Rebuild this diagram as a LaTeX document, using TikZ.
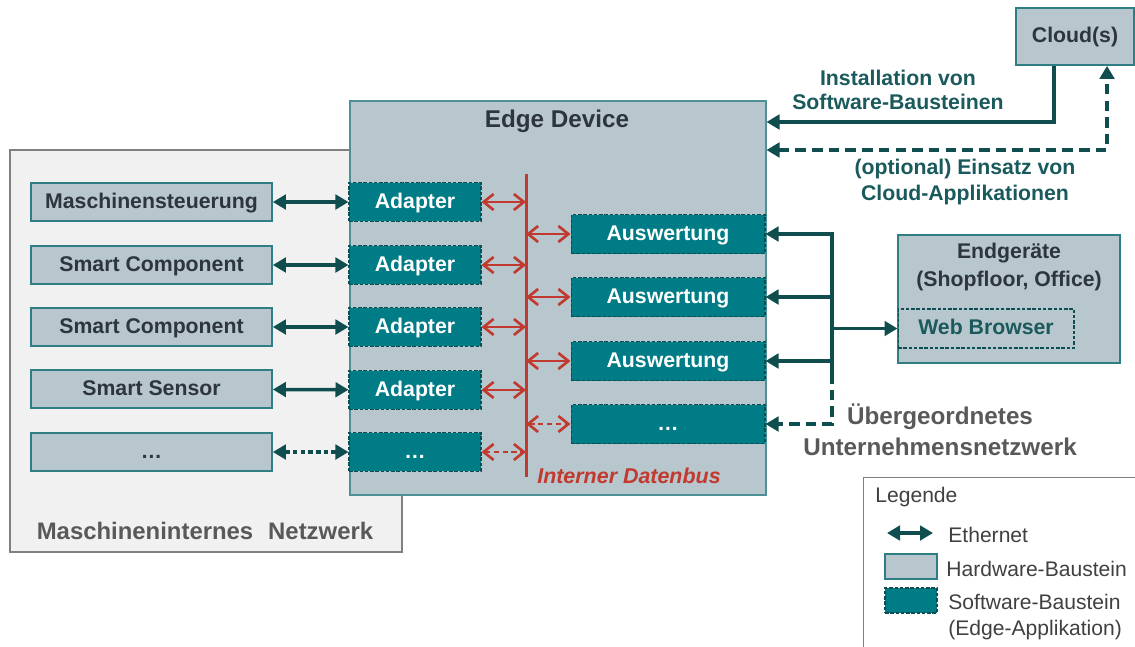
\documentclass[tikz,border=0pt]{standalone}
\usepackage{fontspec}
\setmainfont{Liberation Sans}
\usetikzlibrary{arrows.meta,positioning}
\definecolor{hwfill}{HTML}{B8C6CD}
\definecolor{hwline}{HTML}{2E7E84}
\definecolor{swfill}{HTML}{007C86}
\definecolor{swline}{HTML}{0D4E52}
\definecolor{ethcol}{HTML}{0F4D4F}
\definecolor{labcol}{HTML}{1A5A5C}
\definecolor{buscol}{HTML}{C03A2F}
\definecolor{txtdark}{HTML}{2C3540}
\definecolor{txtgrey}{HTML}{595959}
\definecolor{netbg}{HTML}{F1F1F1}
\definecolor{netline}{HTML}{808080}

\begin{document}
\begin{tikzpicture}[x=0.02cm,y=-0.02cm,
  font=\fontsize{12.1}{14}\selectfont\bfseries,
  hw/.style={draw=hwline,fill=hwfill,line width=1pt,text=txtdark,inner sep=0pt},
  sw/.style={draw=swline,fill=swfill,line width=0.6pt,dash pattern=on 2pt off 1pt,
             text=white,inner sep=0pt},
  one/.style={text height=0.7em,text depth=0pt},
  dev/.style={hw,one,minimum width=4.82cm,minimum height=0.76cm},
  ad/.style={sw,one,minimum width=2.64cm,minimum height=0.77cm},
  ev/.style={sw,one,minimum width=3.88cm,minimum height=0.78cm},
  eth/.style={line width=2pt,ethcol,{Triangle[length=2.6mm,width=2.9mm]}-{Triangle[length=2.6mm,width=2.9mm]}},
  eone/.style={line width=2pt,ethcol,-{Triangle[length=2.6mm,width=2.9mm]}},
  dbus/.style={line width=1.5pt,buscol,{Straight Barb[length=2mm,width=3.2mm]}-{Straight Barb[length=2mm,width=3.2mm]}},
  legtxt/.style={font=\fontsize{12}{14.8}\selectfont\mdseries,text=black!75,align=left,anchor=west,inner sep=0pt},
]
\useasboundingbox (0,0) rectangle (1135,646);
\clip (0,0) rectangle (1135,646);

\node[draw=netline,fill=netbg,line width=1.1pt,anchor=north west,inner sep=0pt,
      minimum width=7.84cm,minimum height=8.04cm] (net) at (9,149) {};
\node[font=\fontsize{13.6}{16}\selectfont\bfseries,text=txtgrey] (netlbl) at (205,531)
  {Maschineninternes\hspace{0.35em} Netzwerk};

\node[hw,draw=hwline!85,line width=0.9pt,anchor=north west,
      minimum width=8.32cm,minimum height=7.88cm] (edge) at (349,100) {};
\node[font=\fontsize{13.8}{16}\selectfont\bfseries,text=txtdark] (edgelbl) at (557,121) {Edge Device};

% machine side
\node[dev] (m1) at (151.5,202) {Maschinensteuerung};
\node[dev] (m2) at (151.5,265) {Smart Component};
\node[dev] (m3) at (151.5,327) {Smart Component};
\node[dev] (m4) at (151.5,389) {Smart Sensor};
\node[dev] (m5) at (151.5,452) {\dots};

\node[ad] (a1) at (415,202) {Adapter};
\node[ad] (a2) at (415,265) {Adapter};
\node[ad] (a3) at (415,327) {Adapter};
\node[ad] (a4) at (415,390) {Adapter};
\node[ad] (a5) at (415,452) {\dots};

\node[ev] (v1) at (668,234) {Auswertung};
\node[ev] (v2) at (668,297) {Auswertung};
\node[ev] (v3) at (668,361) {Auswertung};
\node[ev] (v4) at (668,424) {\dots};

\draw[eth] (m1) -- (a1);
\draw[eth] (m2) -- (a2);
\draw[eth] (m3) -- (a3);
\draw[eth] (m4) -- (a4);
\draw[eth,dash pattern=on 2.6pt off 1.8pt] (m5) -- (a5);

% internal bus
\coordinate (busT) at (526,174);
\coordinate (busB) at (526,477);
\draw[buscol,line width=1.7pt] (busT) -- (busB);
\node[font=\fontsize{12.2}{14}\selectfont\bfseries\itshape,text=buscol] (buslbl) at (629,476) {Interner Datenbus};

\draw[dbus] (a1.east) -- (a1.east -| busT);
\draw[dbus] (a2.east) -- (a2.east -| busT);
\draw[dbus] (a3.east) -- (a3.east -| busT);
\draw[dbus] (a4.east) -- (a4.east -| busT);
\draw[dbus,dash pattern=on 3pt off 2pt] (a5.east) -- (a5.east -| busT);
\draw[dbus] (v1.west -| busT) -- (v1.west);
\draw[dbus] (v2.west -| busT) -- (v2.west);
\draw[dbus] (v3.west -| busT) -- (v3.west);
\draw[dbus,dash pattern=on 3pt off 2pt] (v4.west -| busT) -- (v4.west);

% cloud
\node[hw,one,minimum width=2.36cm,minimum height=1.14cm] (cloud) at (1075,36.5) {Cloud(s)};
\coordinate (ins) at (1054,122);
\coordinate (opt) at (1107,150);
\draw[eone] (cloud.south -| ins) -- (ins) -- (edge.east |- ins);
\draw[eth,dash pattern=on 6pt off 3.5pt] (edge.east |- opt) -- (opt) -- (cloud.south -| opt);
\node[text=labcol,align=center] (inslbl) at (898,90) {Installation von\\Software-Bausteinen};
\node[text=labcol,align=center,font=\fontsize{12.1}{14.8}\selectfont\bfseries] (optlbl) at (965,182)
  {(optional) Einsatz von\\Cloud-Applikationen};

% end devices
\node[hw,minimum width=4.44cm,minimum height=2.56cm] (end) at (1009,299) {};
\node[text=txtdark,align=center,font=\fontsize{12.1}{16}\selectfont\bfseries] (endlbl) at (1009,267)
  {Endger\"ate\\(Shopfloor, Office)};
\node[draw=swline,line width=0.6pt,dash pattern=on 2pt off 1pt,text=labcol,inner sep=0pt,one,
      minimum width=3.52cm,minimum height=0.78cm] (web) at (986,328.5) {Web Browser};

\coordinate (bx) at (832,0);
\coordinate (bsplit) at (832,373);
\draw[eone] (bsplit) -- (v1.east -| bx) -- (v1.east);
\draw[eone] (v2.east -| bx) -- (v2.east);
\draw[eone] (v3.east -| bx) -- (v3.east);
\draw[eone,dash pattern=on 6pt off 3.5pt] (bsplit) -- (v4.east -| bx) -- (v4.east);
\draw[eone] (web.west -| bx) -- (web.west);
\node[font=\fontsize{13.8}{17.6}\selectfont\bfseries,text=txtgrey,align=center] (corp) at (940,430)
  {\"Ubergeordnetes\\Unternehmensnetzwerk};

% legend
\node[draw=netline,line width=0.6pt,anchor=north west,minimum width=6cm,minimum height=4cm] (leg) at (863,477) {};
\node[legtxt] (legt) at (875,497) {Legende};
\coordinate (le1) at (887,533);
\coordinate (le2) at (933,533);
\draw[eth] (le1) -- (le2);
\node[legtxt] (legeth) at (948,535) {Ethernet};
\node[hw,minimum width=1.04cm,minimum height=0.5cm] (leghw) at (911,566.5) {};
\node[legtxt] (leghwt) at (946,569) {Hardware-Baustein};
\node[sw,minimum width=1.04cm,minimum height=0.5cm] (legsw) at (911,600.5) {};
\node[legtxt] (legswt) at (948,617) {Software-Baustein\\(Edge-Applikation)};
\end{tikzpicture}
\end{document}
